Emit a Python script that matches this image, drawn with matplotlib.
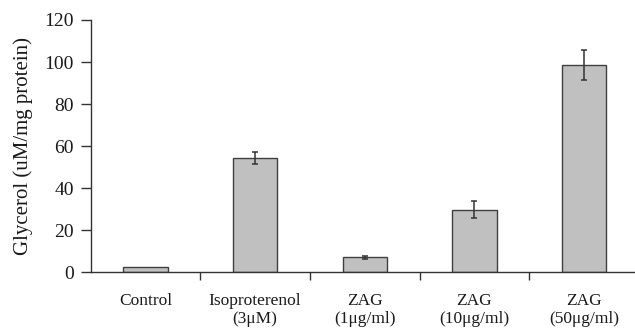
import matplotlib.pyplot as plt
import numpy as np

categories = ["Control", "Isoproterenol\n(3\u03bcM)", "ZAG\n(1\u03bcg/ml)", "ZAG\n(10\u03bcg/ml)", "ZAG\n(50\u03bcg/ml)"]
glycerol = [2.4, 54.3, 7.1, 29.8, 98.4]
glycerol_err = [np.nan, 2.7, 0.7, 4.1, 7.1]  # no error bar shown for control
y_ticks = [0, 20, 40, 60, 80, 100, 120]

plt.rcParams["font.family"] = ["Liberation Serif", "DejaVu Serif"]

fig = plt.figure(figsize=(6.35, 3.32), dpi=100)
ax = fig.add_axes([90.5 / 635, 59.7 / 332, (635 - 90.5) / 635, 252.3 / 332])

x = np.arange(len(categories))
ax.bar(x, glycerol, width=0.405, color="#c0c0c0", edgecolor="#404040", linewidth=1.0, zorder=2)
ax.errorbar(x, glycerol, yerr=glycerol_err, fmt="none", ecolor="#333333",
            elinewidth=1.1, capsize=2.2, capthick=1.1, zorder=3)

ax.set_xlim(-0.5, 4.464)
ax.set_ylim(0, 120)
ax.set_yticks(y_ticks)
ax.tick_params(axis="y", labelsize=14, length=7, width=1.0, color="#333333",
               labelcolor="#1a1a1a", pad=5)

ax.set_xticks(x)
ax.set_xticklabels(categories, fontsize=12.5, color="#1a1a1a", linespacing=1.15)
ax.tick_params(axis="x", which="major", length=0, pad=15)
ax.set_xticks(x[:-1] + 0.5, minor=True)
ax.tick_params(axis="x", which="minor", length=6, width=1.0, color="#333333")

for side in ("top", "right"):
    ax.spines[side].set_visible(False)
for side in ("left", "bottom"):
    ax.spines[side].set_color("#333333")
    ax.spines[side].set_linewidth(1.0)

ax.set_ylabel("Glycerol (uM/mg protein)", fontsize=15, color="#1a1a1a", labelpad=8)

fig.savefig("out.png", dpi=100)
